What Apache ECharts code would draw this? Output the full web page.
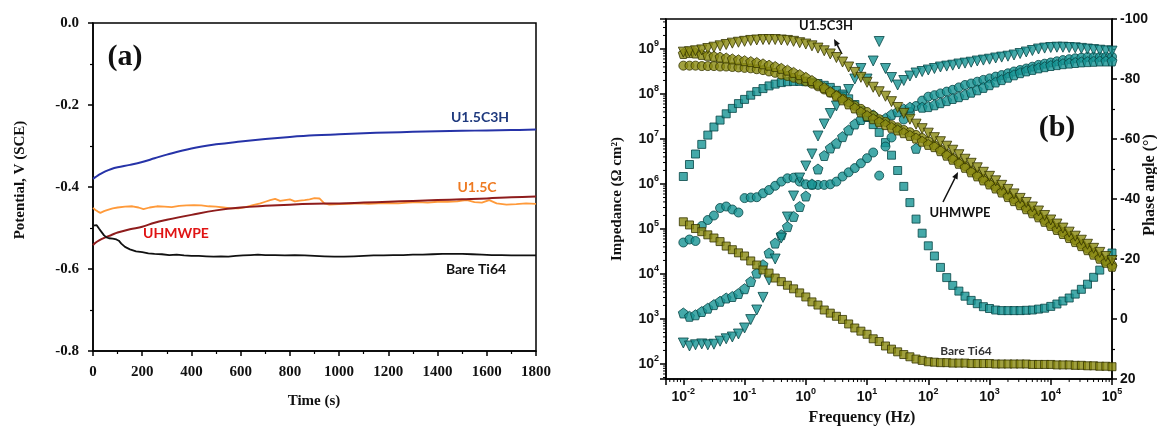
<!DOCTYPE html>
<html><head><meta charset="utf-8">
<script src="https://cdn.jsdelivr.net/npm/echarts@6/dist/echarts.min.js"></script>
</head><body style="margin:0;background:#fff">
<div id="chart" style="width:1157px;height:426px"></div>
<script>
// ---------- Panel (a): open circuit potential vs time ----------
const timeSmooth = [0,10,25,50,75,100,150,200,250,300,400,500,600,700,800,900,1000,1100,1200,1300,1400,1500,1600,1700,1800];
const potU15C3H = [-0.380,-0.376,-0.370,-0.362,-0.356,-0.352,-0.346,-0.339,-0.330,-0.321,-0.306,-0.296,-0.289,-0.283,-0.278,-0.274,-0.2715,-0.269,-0.267,-0.2655,-0.264,-0.263,-0.262,-0.261,-0.260];
const potUHMWPE = [-0.542,-0.536,-0.530,-0.523,-0.517,-0.511,-0.503,-0.497,-0.487,-0.480,-0.468,-0.457,-0.450,-0.446,-0.443,-0.441,-0.440,-0.438,-0.436,-0.434,-0.432,-0.430,-0.428,-0.425,-0.423];
const timeU15C = [0,10,20,30,45,60,80,100,130,160,185,205,230,260,290,320,350,380,410,440,470,500,530,560,590,620,650,680,700,720,740,760,780,800,820,840,860,880,900,920,940,960,1000,1040,1080,1120,1160,1200,1240,1280,1320,1360,1400,1440,1480,1500,1520,1550,1580,1610,1640,1680,1720,1760,1800];
const potU15C = [-0.451,-0.456,-0.460,-0.463,-0.459,-0.456,-0.452,-0.450,-0.448,-0.447,-0.450,-0.454,-0.450,-0.447,-0.448,-0.449,-0.446,-0.445,-0.444,-0.445,-0.447,-0.448,-0.450,-0.452,-0.452,-0.449,-0.444,-0.440,-0.436,-0.432,-0.429,-0.434,-0.432,-0.430,-0.435,-0.433,-0.432,-0.430,-0.427,-0.428,-0.440,-0.443,-0.442,-0.441,-0.440,-0.441,-0.440,-0.439,-0.440,-0.438,-0.437,-0.438,-0.436,-0.436,-0.435,-0.433,-0.432,-0.437,-0.438,-0.432,-0.440,-0.443,-0.442,-0.440,-0.441];
const timeBare = [0,8,15,25,35,45,55,65,80,95,105,115,130,150,175,200,225,250,280,310,340,370,400,430,460,490,520,550,580,610,640,670,700,740,780,820,860,900,940,980,1020,1060,1100,1140,1180,1220,1260,1300,1340,1380,1420,1460,1500,1540,1580,1620,1660,1700,1750,1800];
const potBare = [-0.494,-0.491,-0.493,-0.502,-0.510,-0.518,-0.523,-0.525,-0.526,-0.528,-0.531,-0.538,-0.546,-0.552,-0.557,-0.559,-0.562,-0.563,-0.564,-0.566,-0.565,-0.567,-0.568,-0.568,-0.569,-0.570,-0.569,-0.570,-0.568,-0.567,-0.566,-0.565,-0.566,-0.566,-0.567,-0.566,-0.567,-0.568,-0.569,-0.570,-0.570,-0.569,-0.568,-0.567,-0.567,-0.566,-0.566,-0.565,-0.565,-0.564,-0.563,-0.563,-0.563,-0.564,-0.565,-0.566,-0.566,-0.567,-0.567,-0.567];

// ---------- Panel (b): Bode plot ----------
const freq = [0.01,0.0126,0.0158,0.02,0.0251,0.0316,0.0398,0.0501,0.0631,0.0794,
 0.1,0.126,0.158,0.2,0.251,0.316,0.398,0.501,0.631,0.794,
 1,1.26,1.58,2,2.51,3.16,3.98,5.01,6.31,7.94,
 10,12.6,15.8,20,25.1,31.6,39.8,50.1,63.1,79.4,
 100,126,158,200,251,316,398,501,631,794,
 1000,1260,1580,2000,2510,3160,3980,5010,6310,7940,
 10000,12600,15800,20000,25100,31600,39800,50100,63100,79400,
 100000];
// log10 of |Z| (ohm cm2)
const logZBare = [5.16,5.09,5.01,4.94,4.87,4.80,4.72,4.62,4.54,4.47,
 4.40,4.29,4.20,4.09,4.02,3.91,3.83,3.75,3.67,3.58,
 3.49,3.38,3.31,3.20,3.13,3.06,2.99,2.89,2.80,2.73,
 2.66,2.56,2.50,2.40,2.33,2.27,2.21,2.16,2.11,2.08,
 2.05,2.04,2.03,2.03,2.02,2.02,2.02,2.01,2.01,2.01,
 2.01,2.00,2.00,2.00,2.00,2.00,2.00,1.99,1.99,1.99,
 1.99,1.98,1.98,1.98,1.97,1.97,1.96,1.96,1.95,1.95,
 1.94];
const logZU15C3H = [8.93,8.94,8.96,8.98,9.01,9.04,9.07,9.10,9.13,9.15,
 9.17,9.19,9.20,9.21,9.21,9.21,9.20,9.19,9.17,9.14,
 9.11,9.07,9.02,8.96,8.89,8.81,8.71,8.60,8.48,8.37,
 8.26,8.15,8.05,7.95,7.83,7.70,7.57,7.44,7.33,7.23,
 7.13,7.03,6.94,6.84,6.75,6.65,6.55,6.46,6.36,6.26,
 6.17,6.07,5.97,5.88,5.78,5.68,5.59,5.49,5.40,5.30,
 5.20,5.11,5.02,4.93,4.84,4.75,4.66,4.57,4.48,4.39,
 4.30];
const logZUHMWPE = [8.63,8.63,8.63,8.62,8.62,8.62,8.61,8.61,8.60,8.59,
 8.58,8.57,8.55,8.53,8.50,8.47,8.43,8.40,8.36,8.32,
 8.28,8.23,8.17,8.10,8.03,7.97,7.90,7.82,7.74,7.67,
 7.60,7.52,7.44,7.38,7.31,7.26,7.20,7.15,7.09,7.02,
 6.95,6.86,6.77,6.67,6.58,6.49,6.40,6.30,6.21,6.12,
 6.03,5.94,5.85,5.75,5.66,5.57,5.48,5.39,5.30,5.20,
 5.11,5.02,4.93,4.84,4.75,4.66,4.57,4.47,4.38,4.29,
 4.20];
const logZU15C = [8.90,8.92,8.91,8.88,8.86,8.84,8.82,8.80,8.78,8.76,
 8.74,8.72,8.70,8.67,8.64,8.61,8.57,8.53,8.48,8.43,
 8.37,8.30,8.22,8.14,8.05,7.96,7.87,7.78,7.69,7.60,
 7.52,7.45,7.38,7.32,7.26,7.20,7.14,7.08,7.02,6.95,
 6.88,6.83,6.74,6.64,6.55,6.46,6.37,6.27,6.18,6.09,
 6.00,5.91,5.82,5.72,5.63,5.54,5.45,5.36,5.27,5.17,
 5.08,4.99,4.90,4.81,4.72,4.63,4.54,4.44,4.35,4.26,
 4.17];
// phase angle (degrees)
const phaseBare = [-47.5,-51.5,-55,-58.2,-61.3,-64,-66.3,-68.4,-70.2,-71.8,
 -73.2,-74.6,-75.8,-76.8,-77.7,-78.3,-78.8,-79.1,-79.2,-79.2,
 -79.1,-78.9,-78.5,-77.9,-77.2,-76.2,-75.0,-73.4,-71.5,-69.5,
 -67.2,-64.8,-62.2,-58.8,-54.6,-49.5,-44.2,-38.8,-33.3,-28.6,
 -24.4,-21.0,-17.2,-13.8,-11.2,-9.3,-7.6,-6.2,-5.1,-4.1,
 -3.5,-3.0,-2.8,-2.8,-2.8,-2.8,-2.9,-3.0,-3.3,-3.6,
 -4.2,-5.0,-6.0,-7.0,-8.3,-9.9,-11.6,-13.9,-16.3,-19.3,
 -22.0];
const phaseU15C3H = [8.0,9.0,8.6,8.3,8.6,8.4,7.4,6.6,6.0,5.0,
 3.0,0.2,-3.0,-7.2,-13,-20,-27,-34,-41,-47,
 -51,-55,-61,-65,-68.5,-71,-74,-76.5,-80,-83.5,
 -80,-86,-92.5,-83.5,-80.5,-78,-79.5,-81,-82,-82.5,
 -83,-83.5,-84,-84.3,-84.6,-85,-85.3,-85.6,-86,-86.3,
 -86.6,-87,-87.3,-87.6,-88,-88.5,-89,-89.5,-90,-90.3,
 -90.5,-90.6,-90.6,-90.5,-90.4,-90.2,-90,-89.8,-89.6,-89.4,
 -89.3];
const phaseUHMWPE = [-25.5,-26.5,-26,-31,-33,-34.5,-37,-37.5,-36.5,-35.5,
 -40.3,-40.5,-40.6,-41.9,-43.0,-44.4,-45.8,-46.9,-47.1,-45.8,
 -44.9,-44.7,-44.7,-44.7,-44.9,-45.8,-47.5,-48.9,-50.3,-51.9,
 -53.6,-55.5,-47.8,-57.5,-60.5,-63.5,-66.5,-69,-71,-72.8,
 -74.1,-74.6,-75.2,-75.8,-76.4,-77.2,-78.0,-78.5,-79.1,-79.7,
 -80.2,-80.8,-81.3,-81.9,-82.5,-83.0,-83.5,-84.1,-84.7,-85.1,
 -85.5,-85.9,-86.3,-86.6,-86.9,-87.1,-87.3,-87.3,-87.3,-87.4,
 -87.4];
const phaseU15C = [-2.0,-0.9,-1.4,-2.5,-3.6,-4.8,-5.9,-7.0,-7.5,-8.5,
 -10.1,-12.5,-15.3,-18.1,-22.0,-25.3,-28.1,-30.8,-34.2,-37.5,
 -41,-45,-50,-54.5,-57,-58.6,-60.8,-63,-65,-66.5,
 -67.5,-68,-66,-66.9,-68.2,-69.1,-70.0,-70.6,-56.9,-70.6,
 -70.8,-71.4,-72.1,-72.8,-73.5,-74.1,-74.8,-75.6,-76.4,-77.2,
 -78.1,-79.0,-79.8,-80.6,-81.4,-82.1,-82.7,-83.2,-83.7,-84.1,
 -84.5,-84.8,-85.1,-85.3,-85.5,-85.7,-85.8,-85.9,-86.0,-86.0,
 -86.0];

const F_MIN = 0.00521, F_MAX = 100000;
const Z_MIN = 46.4, Z_MAX = 4.64e9;

const OLIVE = '#8a8a10', OLIVE_EDGE = '#363600';
const TEAL = '#169494', TEAL_EDGE = '#084646';
const PENTAGON = 'path://M0,-1L0.951,-0.309L0.588,0.809L-0.588,0.809L-0.951,-0.309Z';
const SERIF = 'Liberation Serif', SANS = 'Liberation Sans', NOTE = 'Lato';

const pairs = (xs, ys) => xs.map((x, i) => [x, ys[i]]);
const zPairs = (logs) => freq.map((f, i) => [f, Math.pow(10, logs[i])]);
const pPairs = (ph) => freq.map((f, i) => [f, ph[i]]);

function supLabel(v) {
  const e = Math.log10(v), r = Math.round(e);
  if (Math.abs(e - r) > 1e-4) return '';
  return '{b|10}{s|' + r + '}';
}
const supRich = {
  b: {fontFamily: SANS, fontWeight: 'bold', fontSize: 14, color: '#111', lineHeight: 20},
  s: {fontFamily: SANS, fontWeight: 'bold', fontSize: 9, color: '#111', lineHeight: 9, verticalAlign: 'top'}
};

function renderMinor(params, api) {
  const ch = [];
  for (let k = -3; k <= 5; k++) for (let m = 2; m <= 9; m++) {
    const v = m * Math.pow(10, k);
    if (v < F_MIN || v > F_MAX) continue;
    const p = api.coord([v, Z_MIN]);
    ch.push({type: 'line', shape: {x1: p[0], y1: p[1], x2: p[0], y2: p[1] + 3}, style: {stroke: '#000', lineWidth: 1}});
  }
  for (let k = 1; k <= 9; k++) for (let m = 2; m <= 9; m++) {
    const v = m * Math.pow(10, k);
    if (v < Z_MIN || v > Z_MAX) continue;
    const p = api.coord([F_MIN, v]);
    ch.push({type: 'line', shape: {x1: p[0] - 3, y1: p[1], x2: p[0], y2: p[1]}, style: {stroke: '#000', lineWidth: 1}});
  }
  return {type: 'group', children: ch};
}

function arrow(x1, y1, x2, y2) {
  const a = Math.atan2(y2 - y1, x2 - x1), L = 7, W = 3;
  const bx = x2 - L * Math.cos(a), by = y2 - L * Math.sin(a);
  return [
    {type: 'line', shape: {x1: x1, y1: y1, x2: bx, y2: by}, style: {stroke: '#111', lineWidth: 1.5}},
    {type: 'polygon', shape: {points: [[x2, y2], [bx + W * Math.sin(a), by - W * Math.cos(a)], [bx - W * Math.sin(a), by + W * Math.cos(a)]]}, style: {fill: '#111'}}
  ];
}
function txt(x, y, s, font, size, weight, color, rot) {
  return {type: 'text', x: x, y: y, rotation: rot || 0,
    style: {text: s, fontFamily: font, fontSize: size, fontWeight: weight, fill: color, align: 'center', verticalAlign: 'middle'}};
}

const axisLineStyle = {onZero: false, lineStyle: {color: '#000', width: 1.5}};
const mk = (color, edge) => ({color: color, borderColor: edge, borderWidth: 1});

const chart = echarts.init(document.getElementById('chart'));
chart.setOption({
  animation: false,
  backgroundColor: '#fff',
  grid: [
    {left: 93, top: 23, width: 443, height: 328, show: true, borderColor: '#000', borderWidth: 1.5, backgroundColor: 'transparent'},
    {left: 666, top: 19, width: 446, height: 360, show: true, borderColor: '#000', borderWidth: 1.5, backgroundColor: 'transparent'}
  ],
  xAxis: [
    {type: 'value', gridIndex: 0, min: 0, max: 1800, interval: 200,
     axisLine: axisLineStyle, axisTick: {show: true, inside: false, length: 5, lineStyle: {width: 1.5, color: '#000'}},
     minorTick: {show: true, splitNumber: 2, length: 3, lineStyle: {width: 1.2, color: '#000'}},
     splitLine: {show: false},
     axisLabel: {margin: 14, formatter: v => String(v), fontFamily: SERIF, fontWeight: 'bold', fontSize: 15, color: '#111'}},
    {type: 'log', logBase: 10, gridIndex: 1, min: F_MIN, max: F_MAX, splitNumber: 7,
     axisLine: axisLineStyle, axisTick: {show: true, length: 6, lineStyle: {width: 1.5, color: '#000'}},
     splitLine: {show: false},
     axisLabel: {margin: 8, formatter: supLabel, rich: supRich, showMinLabel: true, showMaxLabel: true}}
  ],
  yAxis: [
    {type: 'value', gridIndex: 0, min: -0.8, max: 0, interval: 0.2,
     axisLine: axisLineStyle, axisTick: {show: true, length: 5, lineStyle: {width: 1.5, color: '#000'}},
     minorTick: {show: true, splitNumber: 2, length: 3, lineStyle: {width: 1.2, color: '#000'}},
     splitLine: {show: false},
     axisLabel: {margin: 14, formatter: v => v.toFixed(1), fontFamily: SERIF, fontWeight: 'bold', fontSize: 15, color: '#111'}},
    {type: 'log', logBase: 10, gridIndex: 1, min: Z_MIN, max: Z_MAX, splitNumber: 8, position: 'left',
     axisLine: axisLineStyle, axisTick: {show: true, length: 6, lineStyle: {width: 1.5, color: '#000'}},
     splitLine: {show: false},
     axisLabel: {margin: 7, formatter: supLabel, rich: supRich}},
    {type: 'value', gridIndex: 1, min: -100, max: 20, interval: 20, inverse: true, position: 'right',
     axisLine: axisLineStyle, axisTick: {show: true, length: 5, lineStyle: {width: 1.5, color: '#000'}},
     minorTick: {show: true, splitNumber: 2, length: 3, lineStyle: {width: 1.2, color: '#000'}},
     splitLine: {show: false},
     axisLabel: {margin: 8, fontFamily: SANS, fontWeight: 'bold', fontSize: 14, color: '#111'}}
  ],
  series: [
    {type: 'line', name: 'U1.5C3H', xAxisIndex: 0, yAxisIndex: 0, data: pairs(timeSmooth, potU15C3H), smooth: 0.4, showSymbol: false, lineStyle: {color: '#2633a8', width: 2}},
    {type: 'line', name: 'U1.5C', xAxisIndex: 0, yAxisIndex: 0, data: pairs(timeU15C, potU15C), showSymbol: false, lineStyle: {color: '#ff9a3a', width: 1.8}},
    {type: 'line', name: 'UHMWPE', xAxisIndex: 0, yAxisIndex: 0, data: pairs(timeSmooth, potUHMWPE), smooth: 0.4, showSymbol: false, lineStyle: {color: '#8e1c1c', width: 2}},
    {type: 'line', name: 'Bare Ti64', xAxisIndex: 0, yAxisIndex: 0, data: pairs(timeBare, potBare), showSymbol: false, lineStyle: {color: '#111', width: 1.8}},

    {type: 'custom', xAxisIndex: 1, yAxisIndex: 1, renderItem: renderMinor, data: [[1, 1000]], clip: false, silent: true},

    {type: 'scatter', name: 'Bare phase', xAxisIndex: 1, yAxisIndex: 2, data: pPairs(phaseBare), symbol: 'rect', symbolSize: 8, itemStyle: mk(TEAL, TEAL_EDGE)},
    {type: 'scatter', name: 'UHMWPE phase', xAxisIndex: 1, yAxisIndex: 2, data: pPairs(phaseUHMWPE), symbol: 'circle', symbolSize: 9, itemStyle: mk(TEAL, TEAL_EDGE)},
    {type: 'scatter', name: 'U1.5C phase', xAxisIndex: 1, yAxisIndex: 2, data: pPairs(phaseU15C), symbol: PENTAGON, symbolSize: 10, itemStyle: mk(TEAL, TEAL_EDGE)},
    {type: 'scatter', name: 'U1.5C3H phase', xAxisIndex: 1, yAxisIndex: 2, data: pPairs(phaseU15C3H), symbol: 'triangle', symbolRotate: 180, symbolSize: 10, itemStyle: mk(TEAL, TEAL_EDGE)},

    {type: 'scatter', name: 'Bare |Z|', xAxisIndex: 1, yAxisIndex: 1, data: zPairs(logZBare), symbol: 'rect', symbolSize: 8, itemStyle: mk(OLIVE, OLIVE_EDGE)},
    {type: 'scatter', name: 'UHMWPE |Z|', xAxisIndex: 1, yAxisIndex: 1, data: zPairs(logZUHMWPE), symbol: 'circle', symbolSize: 9, itemStyle: mk(OLIVE, OLIVE_EDGE)},
    {type: 'scatter', name: 'U1.5C |Z|', xAxisIndex: 1, yAxisIndex: 1, data: zPairs(logZU15C), symbol: PENTAGON, symbolSize: 10, itemStyle: mk(OLIVE, OLIVE_EDGE)},
    {type: 'scatter', name: 'U1.5C3H |Z|', xAxisIndex: 1, yAxisIndex: 1, data: zPairs(logZU15C3H), symbol: 'triangle', symbolRotate: 180, symbolSize: 10, itemStyle: mk(OLIVE, OLIVE_EDGE)}
  ],
  graphic: [
    txt(20, 180, 'Potential, V (SCE)', SERIF, 15, 'bold', '#111', Math.PI / 2),
    txt(314, 401, 'Time (s)', SERIF, 15, 'bold', '#111'),
    txt(125, 57, '(a)', SERIF, 30, 'bold', '#111'),
    txt(480, 117, 'U1.5C3H', NOTE, 14, 'bold', '#1f3a7e'),
    txt(477, 187, 'U1.5C', NOTE, 14, 'bold', '#ee7a22'),
    txt(176, 233, 'UHMWPE', NOTE, 14, 'bold', '#e01414'),
    txt(476, 269, 'Bare Ti64', NOTE, 14, 'bold', '#111'),

    txt(617, 199, 'Impedance (Ω cm²)', SERIF, 15, 'bold', '#111', Math.PI / 2),
    txt(1150, 185, 'Phase angle (°)', SERIF, 16, 'bold', '#111', Math.PI / 2),
    txt(862, 418, 'Frequency (Hz)', SERIF, 16, 'bold', '#111'),
    txt(1057, 128, '(b)', SERIF, 30, 'bold', '#111'),
    txt(826, 26, 'U1.5C3H', NOTE, 13, 'bold', '#111'),
    txt(960, 213, 'UHMWPE', NOTE, 13, 'bold', '#111'),
    txt(966, 351, 'Bare Ti64', NOTE, 12, 'bold', '#333'),
    ...arrow(842, 54, 834, 39),
    ...arrow(943, 202, 958, 172)
  ]
});
</script>
</body></html>
